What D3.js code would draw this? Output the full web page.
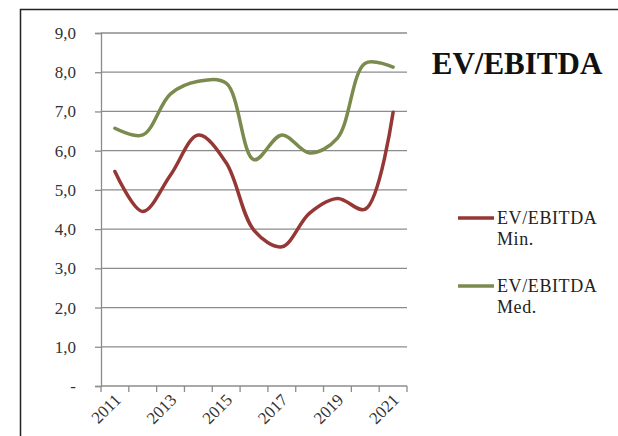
<!DOCTYPE html>
<html>
<head>
<meta charset="utf-8">
<script src="https://cdn.jsdelivr.net/npm/d3@7"></script>
<style>
  body { margin: 0; background: #fff; }
  svg { display: block; font-family: "Liberation Serif", "DejaVu Serif", serif; }
</style>
</head>
<body>
<div id="chart-area"></div>
<script>
const years = ["2011", "2012", "2013", "2014", "2015", "2016", "2017", "2018", "2019", "2020", "2021"];
const minValues = [5.47, 4.45, 5.38, 6.40, 5.69, 3.97, 3.55, 4.41, 4.78, 4.51, 6.98];
const medValues = [6.57, 6.40, 7.45, 7.77, 7.72, 5.77, 6.40, 5.94, 6.32, 8.23, 8.13];
const yTicks = [0, 1, 2, 3, 4, 5, 6, 7, 8, 9];
const seriesNames = [["EV/EBITDA", "Min."], ["EV/EBITDA", "Med."]];
const seriesColors = ["#953735", "#7b8b4e"];

const W = 618, H = 436;
const margin = { left: 101, right: 211, top: 33, bottom: 50 };
const width = W - margin.left - margin.right;
const height = H - margin.top - margin.bottom;

const svg = d3.select("#chart-area")
    .append("svg")
    .attr("width", W)
    .attr("height", H);

// outer frame
svg.append("rect")
    .attr("x", 20.5).attr("y", 9.5)
    .attr("width", 640).attr("height", 460)
    .attr("fill", "none")
    .attr("stroke", "#222")
    .attr("stroke-width", 1.5);

const g = svg.append("g")
    .attr("transform", "translate(" + margin.left + ", " + margin.top + ")");

const x = d3.scaleBand()
    .domain(years)
    .range([0, width]);

const y = d3.scaleLinear()
    .domain([0, 9])
    .range([height, 0]);

// gridlines
g.selectAll(".grid")
    .data(yTicks.filter(d => d > 0))
    .enter()
    .append("line")
    .attr("x1", 0).attr("x2", width)
    .attr("y1", d => y(d)).attr("y2", d => y(d))
    .attr("stroke", "#8c8c8c")
    .attr("stroke-width", 1.3);

// y axis
const yAxisCall = d3.axisLeft(y)
    .tickValues(yTicks)
    .tickSize(6)
    .tickPadding(19)
    .tickFormat(d => d === 0 ? "-" : d3.format(".1f")(d).replace(".", ","));
const yAxis = g.append("g").attr("class", "y-axis").call(yAxisCall);
yAxis.select(".domain").attr("stroke", "#8c8c8c").attr("stroke-width", 1.3);
yAxis.selectAll("line").attr("stroke", "#8c8c8c").attr("stroke-width", 1.3);
yAxis.selectAll("text")
    .attr("font-size", "17px")
    .attr("font-family", "Liberation Serif, serif")
    .attr("fill", "#333");

// x axis
const xAxis = g.append("g")
    .attr("transform", "translate(0, " + height + ")");
xAxis.append("line")
    .attr("x1", 0).attr("x2", width)
    .attr("stroke", "#8c8c8c").attr("stroke-width", 1.3);
const edges = years.map((d, i) => x(d)).concat([width]);
xAxis.selectAll(".tick")
    .data(edges)
    .enter()
    .append("line")
    .attr("x1", d => d).attr("x2", d => d)
    .attr("y1", 0).attr("y2", 6)
    .attr("stroke", "#8c8c8c").attr("stroke-width", 1.3);
xAxis.selectAll(".xlabel")
    .data(years.filter((d, i) => i % 2 === 0))
    .enter()
    .append("text")
    .attr("text-anchor", "end")
    .attr("font-size", "17px")
    .attr("fill", "#333")
    .attr("transform", d => "translate(" + (x(d) + x.bandwidth() / 2 + 7) + ", 15) rotate(-45)")
    .text(d => d);

// lines
const line = d3.line()
    .x((d, i) => x(years[i]) + x.bandwidth() / 2)
    .y(d => y(d))
    .curve(d3.curveCatmullRom.alpha(0.5));

[minValues, medValues].forEach((vals, k) => {
    g.append("path")
        .datum(vals)
        .attr("fill", "none")
        .attr("stroke", seriesColors[k])
        .attr("stroke-width", 3.5)
        .attr("stroke-linecap", "round")
        .attr("d", line);
});

// title
svg.append("text")
    .attr("x", 517).attr("y", 74)
    .attr("text-anchor", "middle")
    .attr("font-size", "31px")
    .attr("font-weight", "bold")
    .attr("fill", "#111")
    .text("EV/EBITDA");

// legend
const legend = svg.selectAll(".legend")
    .data(seriesNames)
    .enter()
    .append("g")
    .attr("transform", (d, i) => "translate(458, " + (218 + i * 68) + ")");
legend.append("line")
    .attr("x1", 0).attr("x2", 36)
    .attr("stroke", (d, i) => seriesColors[i])
    .attr("stroke-width", 3.5);
legend.append("text")
    .attr("x", 39).attr("y", 6)
    .attr("font-size", "18px")
    .attr("letter-spacing", "0.6px")
    .attr("fill", "#222")
    .text(d => d[0]);
legend.append("text")
    .attr("x", 39).attr("y", 27)
    .attr("font-size", "18px")
    .attr("letter-spacing", "0.6px")
    .attr("fill", "#222")
    .text(d => d[1]);
</script>
</body>
</html>
